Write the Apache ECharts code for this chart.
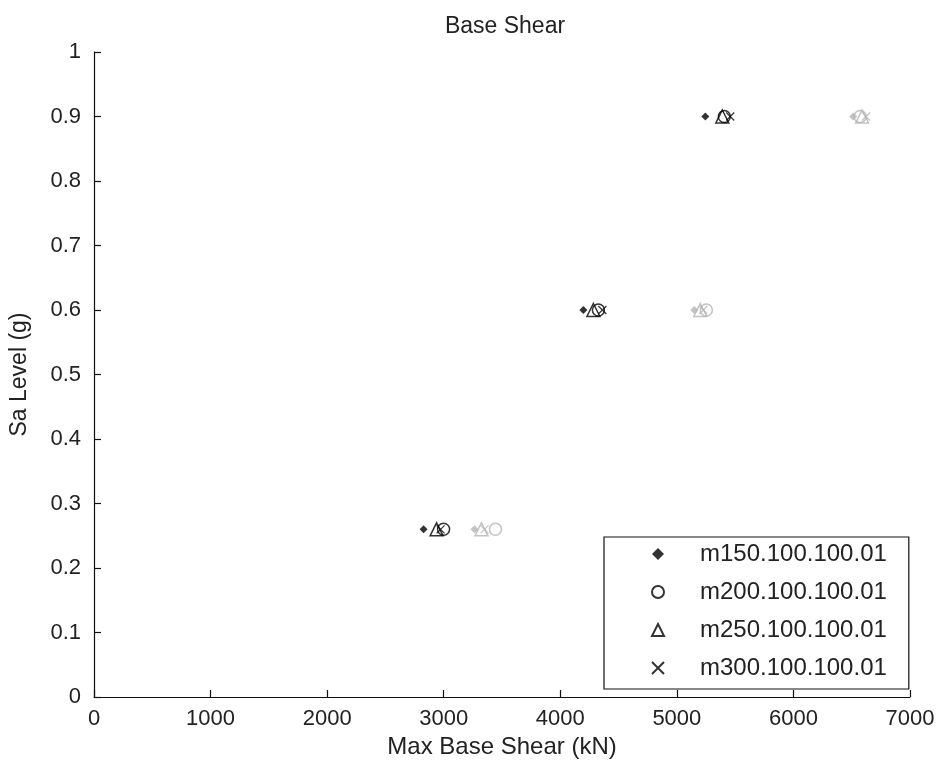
<!DOCTYPE html>
<html>
<head>
<meta charset="utf-8">
<script src="https://cdn.jsdelivr.net/npm/echarts@6/dist/echarts.min.js"></script>
<style>html,body{margin:0;padding:0;background:#fff;}#c{width:943px;height:767px;}</style>
</head>
<body>
<div id="c"></div>
<script>
// Sa levels (y values)
const levels = [0.26, 0.6, 0.9];
// Black set (max base shear, kN)
const m150 = [2827, 4198, 5244];
const m200 = [2999, 4327, 5407];
const m250 = [2939, 4284, 5390];
const m300 = [2973, 4361, 5458];
// Grey set (max base shear, kN)
const m150g = [3264, 5150, 6512];
const m200g = [3444, 5253, 6572];
const m250g = [3324, 5201, 6589];
const m300g = [3350, 5227, 6623];
const seriesNames = ['m150.100.100.01', 'm200.100.100.01', 'm250.100.100.01', 'm300.100.100.01'];
const xTicks = [0, 1000, 2000, 3000, 4000, 5000, 6000, 7000];
const yTicks = [0, 0.1, 0.2, 0.3, 0.4, 0.5, 0.6, 0.7, 0.8, 0.9, 1];

const FONT = 'Liberation Sans';
const BLACK = '#000';
const GREY = '#b4b4b4';
const XPATH = 'path://M0,0L10,10M10,0L0,10';

function pts(xs) { return xs.map((x, i) => [x, levels[i]]); }

function mk(name, xs, kind, color, showInLegend) {
  const s = { name: name, type: 'scatter', data: pts(xs), z: showInLegend ? 3 : 2 };
  if (kind === 'diamond') {
    s.symbol = 'diamond'; s.symbolSize = 8;
    s.itemStyle = { color: color };
  } else if (kind === 'circle') {
    s.symbol = 'circle'; s.symbolSize = 12;
    s.itemStyle = { color: 'rgba(0,0,0,0)', borderColor: color, borderWidth: 1.5 };
  } else if (kind === 'triangle') {
    s.symbol = 'triangle'; s.symbolSize = 13;
    s.itemStyle = { color: 'rgba(0,0,0,0)', borderColor: color, borderWidth: 1.5 };
  } else {
    s.symbol = XPATH; s.symbolSize = 8;
    s.itemStyle = { color: 'rgba(0,0,0,0)', borderColor: color, borderWidth: 1.2 };
  }
  s.emphasis = { disabled: true };
  return s;
}

const series = [
  mk(seriesNames[0] + ' ', m150g, 'diamond', GREY, false),
  mk(seriesNames[1] + ' ', m200g, 'circle', GREY, false),
  mk(seriesNames[2] + ' ', m250g, 'triangle', GREY, false),
  mk(seriesNames[3] + ' ', m300g, 'x', GREY, false),
  mk(seriesNames[0], m150, 'diamond', BLACK, true),
  mk(seriesNames[1], m200, 'circle', BLACK, true),
  mk(seriesNames[2], m250, 'triangle', BLACK, true),
  mk(seriesNames[3], m300, 'x', BLACK, true)
];

const legendIcons = ['diamond', 'circle', 'triangle', XPATH];

const chart = echarts.init(document.getElementById('c'), null, { renderer: 'canvas' });
chart.setOption({
  animation: false,
  backgroundColor: '#fff',
  textStyle: { fontFamily: FONT },
  title: {
    text: 'Base Shear', left: 500, top: 10, textAlign: 'center',
    textStyle: { fontFamily: FONT, fontSize: 23, fontWeight: 'normal', color: '#222' }
  },
  grid: { left: 93, right: 33, top: 52, bottom: 70, containLabel: false },
  xAxis: {
    type: 'value', min: xTicks[0], max: xTicks[xTicks.length - 1], interval: 1000,
    name: 'Max Base Shear (kN)', nameLocation: 'middle', nameGap: 36,
    nameTextStyle: { fontFamily: FONT, fontSize: 24, color: '#222' },
    axisLine: { show: true, onZero: false, lineStyle: { color: '#111', width: 1.2 } },
    axisTick: { show: true, inside: true, length: 7, lineStyle: { color: '#111', width: 1.2 } },
    axisLabel: { fontFamily: FONT, fontSize: 22, color: '#222', margin: 11,
      formatter: v => String(v) },
    splitLine: { show: false }
  },
  yAxis: {
    type: 'value', min: yTicks[0], max: yTicks[yTicks.length - 1], interval: 0.1,
    name: 'Sa Level (g)', nameLocation: 'middle', nameGap: 63, nameRotate: 90,
    nameTextStyle: { fontFamily: FONT, fontSize: 23, color: '#222' },
    axisLine: { show: true, onZero: false, lineStyle: { color: '#111', width: 1.2 } },
    axisTick: { show: true, inside: true, length: 7, lineStyle: { color: '#111', width: 1.2 } },
    axisLabel: { fontFamily: FONT, fontSize: 22, color: '#222', margin: 13,
      formatter: v => (Math.round(v * 10) / 10).toString() },
    splitLine: { show: false }
  },
  legend: {
    data: seriesNames.map((n, i) => ({ name: n, icon: legendIcons[i] })),
    orient: 'vertical', left: 604, top: 537,
    backgroundColor: '#fff', borderColor: '#111', borderWidth: 1.2,
    padding: [5, 22, 9, 47], itemWidth: 12, itemHeight: 12, itemGap: 14,
    textStyle: { fontFamily: FONT, fontSize: 24, color: '#222', padding: [0, 0, 0, 31] },
    selectedMode: false
  },
  series: series
});
</script>
</body>
</html>
